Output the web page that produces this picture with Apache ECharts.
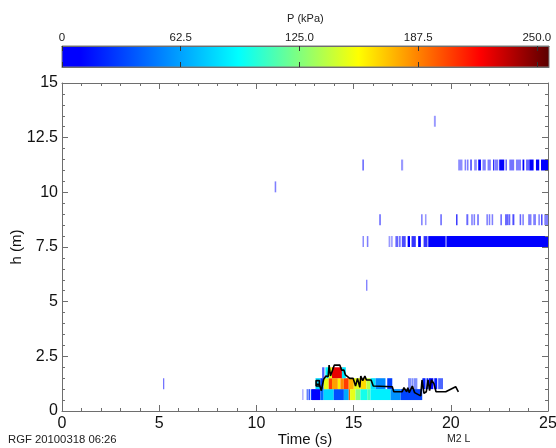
<!DOCTYPE html>
<html>
<head>
<meta charset="utf-8">
<style>html,body{margin:0;padding:0;background:#fff}#main{width:556px;height:448px}</style>
<script src="https://cdn.jsdelivr.net/npm/echarts@6/dist/echarts.min.js"></script>
</head>
<body>
<div id="main"></div>
<script>
// [start s, end s, P kPa, share of the span filled] for each height bin
const bin05 = [[12.36,12.42,12,.4],[12.58,12.66,25,.6],[12.68,12.76,25,.8],[12.8,12.86,25],[12.86,13.29,5],[13.29,13.46,45],[13.46,13.98,80],[13.98,14.5,35],[14.5,14.75,65],[14.75,14.82,195],[14.82,15.1,150],[15.1,15.35,125],[15.35,15.7,98],[15.7,15.87,110],[15.87,16.9,88],[16.9,17.42,58],[17.42,18.53,32]];
const bin10 = [[5.2,5.26,8,.6],[13.04,13.29,80],[13.29,13.46,30],[13.46,13.72,150],[13.72,13.89,205],[13.89,14.19,180],[14.19,14.32,160],[14.32,14.5,185],[14.5,14.75,205],[14.75,15.01,175],[15.01,15.35,150],[15.35,15.66,165],[15.66,15.87,140],[15.87,16.13,85],[16.13,16.64,55],[16.73,16.99,30],[17.8,17.98,20,.5],[18.0,18.08,20,.5],[18.1,18.28,20,.5],[18.54,18.7,20],[18.75,18.85,20],[18.88,19.1,12],[19.15,19.3,18],[19.35,19.6,22,.7]];
const bin15 = [[13.38,13.5,20,.7],[13.55,13.72,90],[13.72,13.89,150],[13.89,14.4,225],[14.4,14.6,85]];
const bin55 = [[15.64,15.71,8,.5]];
const bin75 = [[15.46,15.53,6,.5],[15.68,15.76,6,.5],[16.8,16.89,6,.4],[16.93,17.01,6,.4],[17.15,17.3,3,.6],[17.34,17.42,6,.6],[17.48,17.68,3,.7],[17.78,17.9,3],[17.98,18.2,3,.8],[18.32,18.46,3],[18.6,18.8,3,.8],[18.84,19.72,2],[19.72,19.8,12,.6],[19.8,25,2]];
const bin85 = [[16.32,16.4,8,.6],[18.47,18.55,8,.5],[18.67,18.75,8,.4],[19.46,19.54,8,.6],[20.28,20.34,3],[20.8,20.9,6,.6],[21.05,21.13,8,.5],[21.17,21.25,8,.5],[21.36,21.44,8,.6],[21.83,21.91,8,.5],[21.95,22.03,8,.5],[22.1,22.18,6,.5],[22.55,22.63,8,.6],[22.81,22.87,3],[22.89,22.97,8,.6],[22.98,23.06,8,.6],[23.17,23.27,5,.7],[23.54,23.62,8,.6],[23.68,23.76,8,.5],[23.98,24.15,7,.5],[24.24,24.38,7,.5],[24.52,24.56,4],[24.64,24.72,5,.7],[24.81,25,7,.5]];
const bin105 = [[10.94,11.02,8,.5]];
const bin110 = [[15.45,15.53,6,.6],[17.44,17.55,8,.4],[20.38,20.6,8,.45],[20.71,20.79,8,.5],[20.83,20.91,8,.5],[21.01,21.07,3],[21.2,21.34,8,.45],[21.41,21.55,3],[21.63,21.8,7,.5],[21.89,22.06,7,.5],[22.18,22.24,3],[22.27,22.44,7,.5],[22.49,22.75,3],[22.81,22.89,6,.6],[23.01,23.26,7,.55],[23.35,23.61,8,.5],[23.69,23.78,3],[23.87,24.04,5,.6],[24.04,24.26,3],[24.38,24.55,3],[24.64,25,3]];
const bin130 = [[19.13,19.23,8,.4]];
const bins = [[0.5,bin05],[1,bin10],[1.5,bin15],[5.5,bin55],[7.5,bin75],[8.5,bin85],[10,bin105],[11,bin110],[13,bin130]];
const binHeight = 0.5;

// black line
const lineT = [13.07,13.07,13.24,13.24,13.07,13.07,13.24,13.34,13.46,13.58,13.69,13.74,13.81,13.91,14.01,14.29,14.38,14.5,14.58,14.8,14.98,15.1,15.2,15.32,15.37,15.47,15.58,15.66,15.9,16.01,16.99,17.07,17.5,17.59,17.73,17.79,17.86,18.02,18.14,18.24,18.45,18.52,18.62,18.74,18.83,18.91,19.0,19.13,19.24,19.74,20.25,20.39];
const lineH = [1.39,1.14,1.14,1.39,1.39,1.22,1.22,0.93,1.45,1.6,1.57,2.1,1.6,1.69,2.1,2.1,1.87,1.87,1.65,1.49,1.49,1.14,1.49,1.08,1.6,1.39,1.6,1.42,1.42,1.14,1.11,0.88,0.88,1.07,0.88,1.07,0.84,1.14,0.84,0.88,0.69,1.42,0.81,0.88,1.42,0.93,1.42,1.26,0.88,0.88,1.11,0.88];

// colour scale
const scaleP = [0,10,93,156,220,256.4];
const scaleRGB = [[0,0,255],[0,0,255],[0,255,255],[255,255,0],[255,0,0],[90,0,0]];
const barTicks = [0,62.5,125,187.5,250];
const barLabels = ['0','62.5','125.0','187.5','250.0'];
const barMax = 256.4;

function pColor(p) {
    let i = 0;
    while (i < scaleP.length - 2 && p > scaleP[i + 1]) i++;
    const f = Math.min(1, (p - scaleP[i]) / (scaleP[i + 1] - scaleP[i]));
    const c = scaleRGB[i].map((v, k) => Math.round(v + (scaleRGB[i + 1][k] - v) * f));
    return 'rgb(' + c.join(',') + ')';
}

const cells = [];
bins.forEach(function (b) {
    b[1].forEach(function (r) { cells.push([r[0], r[1], b[0], r[2], r[3] === undefined ? 1 : r[3]]); });
});

function drawCell(params, api) {
    const a = api.coord([api.value(0), api.value(2) + binHeight]);
    const b = api.coord([api.value(1), api.value(2)]);
    return {
        type: 'rect',
        shape: { x: a[0], y: a[1], width: b[0] - a[0], height: b[1] - a[1] },
        style: { fill: pColor(api.value(3)), opacity: api.value(4) }
    };
}
function drawBar(params, api) {
    const a = api.coord([api.value(0), 1]);
    const b = api.coord([api.value(1), 0]);
    return {
        type: 'rect',
        shape: { x: a[0], y: a[1], width: b[0] - a[0], height: b[1] - a[1] },
        style: {
            fill: new echarts.graphic.LinearGradient(0, 0, 1, 0, scaleP.map(function (p) {
                return { offset: p / barMax, color: pColor(p) };
            })),
            stroke: '#7a7a7a', lineWidth: 1
        }
    };
}

const axisGray = '#6e6e6e';
const font = '"Liberation Sans", Arial, sans-serif';
const myChart = echarts.init(document.getElementById('main'));
myChart.setOption({
    animation: false,
    backgroundColor: '#fff',
    textStyle: { fontFamily: font },
    grid: [
        { left: 62, top: 83, width: 486, height: 328, outerBoundsMode: 'none' },
        { left: 62, top: 46, width: 487, height: 21, outerBoundsMode: 'none' }
    ],
    graphic: [
        { type: 'text', left: 287, top: 13, style: { text: 'P (kPa)', font: '11px ' + font, fill: '#222' } },
        { type: 'text', left: 8, top: 434, style: { text: 'RGF 20100318 06:26', font: '11.3px ' + font, fill: '#222' } },
        { type: 'text', left: 447, top: 434, style: { text: 'M2 L', font: '10.5px ' + font, fill: '#222' } }
    ],
    xAxis: [
        {
            type: 'value', gridIndex: 0, min: 0, max: 25, interval: 5, position: 'bottom', z: 5,
            name: 'Time (s)', nameLocation: 'middle', nameGap: 21, nameMoveOverlap: false,
            nameTextStyle: { fontSize: 15, color: '#111', fontFamily: font },
            splitLine: { show: false },
            axisLine: { onZero: false, lineStyle: { color: axisGray } },
            axisTick: { inside: true, length: 6, lineStyle: { color: axisGray } },
            minorTick: { show: true, splitNumber: 5, length: 3, lineStyle: { color: axisGray } },
            axisLabel: { fontSize: 16, color: '#111', margin: 5, fontFamily: font }
        },
        {
            type: 'value', gridIndex: 0, min: 0, max: 25, interval: 5, position: 'top', z: 5,
            splitLine: { show: false },
            axisLine: { onZero: false, lineStyle: { color: axisGray } },
            axisTick: { inside: true, length: 6, lineStyle: { color: axisGray } },
            minorTick: { show: true, splitNumber: 5, length: 3, lineStyle: { color: axisGray } },
            axisLabel: { show: false }
        },
        {
            type: 'value', gridIndex: 1, min: 0, max: barMax, position: 'top', z: 5,
            splitLine: { show: false },
            axisLine: { onZero: false, lineStyle: { color: axisGray } },
            axisTick: { inside: true, length: 5, customValues: barTicks, lineStyle: { color: '#333' } },
            axisLabel: {
                fontSize: 11.5, color: '#222', margin: 2, fontFamily: font, hideOverlap: false,
                customValues: barTicks,
                formatter: function (v) { return barLabels[barTicks.indexOf(v)]; }
            }
        },
        {
            type: 'value', gridIndex: 1, min: 0, max: barMax, position: 'bottom', z: 5,
            splitLine: { show: false },
            axisLine: { onZero: false, lineStyle: { color: axisGray } },
            axisTick: { inside: true, length: 5, customValues: barTicks, lineStyle: { color: '#333' } },
            axisLabel: { show: false }
        }
    ],
    yAxis: [
        {
            type: 'value', gridIndex: 0, min: 0, max: 15, interval: 2.5, position: 'left', z: 5,
            name: 'h (m)', nameLocation: 'middle', nameGap: 38, nameMoveOverlap: false,
            nameTextStyle: { fontSize: 15, color: '#111', fontFamily: font },
            splitLine: { show: false },
            axisLine: { onZero: false, lineStyle: { color: axisGray } },
            axisTick: { inside: true, length: 6, lineStyle: { color: axisGray } },
            minorTick: { show: true, splitNumber: 5, length: 3, lineStyle: { color: axisGray } },
            axisLabel: { fontSize: 16, color: '#111', margin: 4, fontFamily: font }
        },
        {
            type: 'value', gridIndex: 0, min: 0, max: 15, interval: 2.5, position: 'right', z: 5,
            splitLine: { show: false },
            axisLine: { onZero: false, lineStyle: { color: axisGray } },
            axisTick: { inside: true, length: 6, lineStyle: { color: axisGray } },
            minorTick: { show: true, splitNumber: 5, length: 3, lineStyle: { color: axisGray } },
            axisLabel: { show: false }
        },
        {
            type: 'value', gridIndex: 1, min: 0, max: 1,
            axisLine: { show: false }, axisTick: { show: false }, axisLabel: { show: false }, splitLine: { show: false }
        }
    ],
    series: [
        { type: 'custom', xAxisIndex: 0, yAxisIndex: 0, renderItem: drawCell, data: cells, silent: true, clip: true },
        {
            type: 'line', xAxisIndex: 0, yAxisIndex: 0, showSymbol: false, silent: true,
            lineStyle: { color: '#000', width: 1.6 },
            data: lineT.map(function (t, i) { return [t, lineH[i]]; })
        },
        { type: 'custom', xAxisIndex: 2, yAxisIndex: 2, renderItem: drawBar, data: [[0, barMax]], silent: true }
    ]
});
</script>
</body>
</html>
